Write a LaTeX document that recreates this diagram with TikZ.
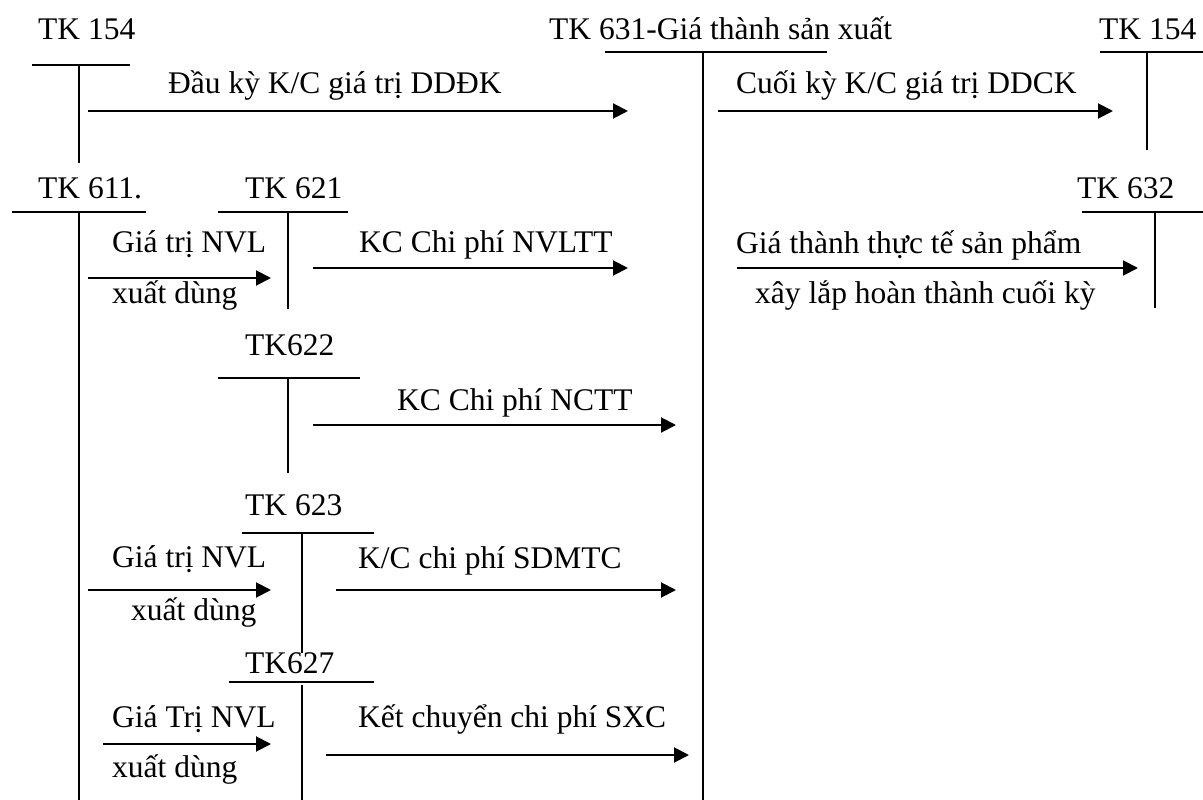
\documentclass[tikz,border=0pt]{standalone}
\usepackage{fontspec}
\setmainfont{Liberation Serif}
\usetikzlibrary{arrows.meta}
\begin{document}
\begin{tikzpicture}[x=1pt,y=-1pt,
  lbl/.style={anchor=base west,inner sep=0pt,font=\fontsize{31.5}{36}\selectfont},
  tline/.style={line width=1.6pt},
  flow/.style={line width=2pt,-{Triangle[length=15pt,width=15pt]}}]
\useasboundingbox (0,0) rectangle (1203,800);

% ---- account titles ----
\node[lbl] (t154a) at (38,40) {TK 154};
\node[lbl] (t631) at (549,40) {TK 631-Giá thành sản xuất};
\node[lbl] (t154b) at (1099,40) {TK 154};
\node[lbl] (t611) at (38,198) {TK 611.};
\node[lbl] (t621) at (245,198) {TK 621};
\node[lbl] (t632) at (1077,198) {TK 632};
\node[lbl] (t622) at (245,355) {TK622};
\node[lbl] (t623) at (245,515) {TK 623};
\node[lbl] (t627) at (245,673) {TK627};

% ---- T accounts ----
\draw[tline] (32,65) -- (130,65);  \draw[tline] (79,65) -- (79,163);
\draw[tline] (605,52) -- (827,52); \draw[tline] (703,52) -- (703,800);
\draw[tline] (1100,52) -- (1203,52); \draw[tline] (1147,52) -- (1147,150);
\draw[tline] (12,212) -- (146,212); \draw[tline] (79,212) -- (79,800);
\draw[tline] (218,212) -- (348,212); \draw[tline] (288,212) -- (288,309);
\draw[tline] (1082,212) -- (1203,212); \draw[tline] (1155,212) -- (1155,308);
\draw[tline] (218,378) -- (360,378); \draw[tline] (288,378) -- (288,473);
\draw[tline] (242,533) -- (374,533); \draw[tline] (302,533) -- (302,653);
\draw[tline] (229,682) -- (374,682); \draw[tline] (302,685) -- (302,800);

% ---- flow end points ----
\coordinate (a1s) at (88,111);  \coordinate (a1e) at (628,111);
\coordinate (a2s) at (718,111); \coordinate (a2e) at (1113,111);
\coordinate (a3s) at (88,278);  \coordinate (a3e) at (271,278);
\coordinate (a4s) at (313,268); \coordinate (a4e) at (628,268);
\coordinate (a5s) at (737,268); \coordinate (a5e) at (1138,268);
\coordinate (a6s) at (313,425); \coordinate (a6e) at (676,425);
\coordinate (a7s) at (88,590);  \coordinate (a7e) at (271,590);
\coordinate (a8s) at (336,590); \coordinate (a8e) at (676,590);
\coordinate (a9s) at (103,744); \coordinate (a9e) at (271,744);
\coordinate (a10s) at (326,755); \coordinate (a10e) at (689,755);

\draw[flow] (a1s) -- (a1e);
\draw[flow] (a2s) -- (a2e);
\draw[flow] (a3s) -- (a3e);
\draw[flow] (a4s) -- (a4e);
\draw[flow] (a5s) -- (a5e);
\draw[flow] (a6s) -- (a6e);
\draw[flow] (a7s) -- (a7e);
\draw[flow] (a8s) -- (a8e);
\draw[flow] (a9s) -- (a9e);
\draw[flow] (a10s) -- (a10e);

% ---- flow labels ----
\node[lbl] (l1) at (168,93) {Đầu kỳ K/C giá trị DDĐK};
\node[lbl] (l2) at (736,93) {Cuối kỳ K/C giá trị DDCK};
\node[lbl] (l3a) at (112,252) {Giá trị NVL};
\node[lbl] (l3b) at (112,303) {xuất dùng};
\node[lbl] (l4) at (359,252) {KC Chi phí NVLTT};
\node[lbl] (l5a) at (736,253) {Giá thành thực tế sản phẩm};
\node[lbl] (l5b) at (755,303) {xây lắp hoàn thành cuối kỳ};
\node[lbl] (l6) at (397,410) {KC Chi phí NCTT};
\node[lbl] (l7a) at (112,567) {Giá trị NVL};
\node[lbl] (l7b) at (131,620) {xuất dùng};
\node[lbl] (l8) at (358,568) {K/C chi phí SDMTC};
\node[lbl] (l9a) at (112,727) {Giá Trị NVL};
\node[lbl] (l9b) at (112,777) {xuất dùng};
\node[lbl] (l10) at (358,727) {Kết chuyển chi phí SXC};
\end{tikzpicture}
\end{document}
